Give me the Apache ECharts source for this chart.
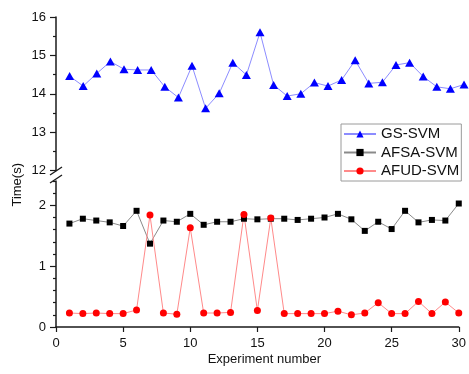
<!DOCTYPE html>
<html>
<head>
<meta charset="utf-8">
<script src="https://cdn.jsdelivr.net/npm/echarts@6/dist/echarts.min.js"></script>
<style>
  html, body { margin: 0; padding: 0; background: #fff; }
  #chart { width: 469px; height: 374px; }
</style>
</head>
<body>
<div id="chart"></div>
<script>
// Run times of three SVM tuning methods over 30 experiments
const experiments = [1, 2, 3, 4, 5, 6, 7, 8, 9, 10, 11, 12, 13, 14, 15, 16, 17, 18, 19, 20, 21, 22, 23, 24, 25, 26, 27, 28, 29, 30];
const gsSvm = [14.46, 14.20, 14.53, 14.84, 14.64, 14.62, 14.62, 14.18, 13.90, 14.73, 13.62, 14.01, 14.81, 14.49, 15.60, 14.23, 13.94, 14.00, 14.29, 14.20, 14.36, 14.87, 14.27, 14.30, 14.75, 14.81, 14.45, 14.18, 14.13, 14.24];
const afsaSvm = [1.70, 1.78, 1.75, 1.72, 1.66, 1.91, 1.37, 1.75, 1.73, 1.86, 1.68, 1.73, 1.73, 1.78, 1.77, 1.78, 1.78, 1.76, 1.78, 1.80, 1.86, 1.77, 1.58, 1.73, 1.61, 1.91, 1.72, 1.76, 1.75, 2.03];
const afudSvm = [0.23, 0.22, 0.23, 0.22, 0.22, 0.28, 1.84, 0.23, 0.21, 1.63, 0.23, 0.23, 0.24, 1.85, 0.27, 1.79, 0.22, 0.22, 0.22, 0.22, 0.26, 0.20, 0.23, 0.40, 0.22, 0.22, 0.42, 0.22, 0.41, 0.23];

// Axis ranges and labelled ticks
const xRange = [0, 30];
const xTicks = [0, 5, 10, 15, 20, 25, 30];
const upperRange = [12, 16];
const upperTicks = [12, 13, 14, 15, 16];
const lowerRange = [0, 2.4];
const lowerTicks = [0, 1, 2];
const lowerMinorTicks = [0.2, 0.4, 0.6, 0.8, 1.2, 1.4, 1.6, 1.8, 2.2, 2.4];

const FONT = '"Liberation Sans", Arial, sans-serif';
const AXIS_COLOR = '#1a1a1a';

const pairs = ys => experiments.map((x, i) => [x, ys[i]]);

const chart = echarts.init(document.getElementById('chart'), null, { renderer: 'canvas' });

const hiddenX = gi => ({
  type: 'value', gridIndex: gi, min: xRange[0], max: xRange[1], show: false
});

// Upper and lower panels share the x range; grid 2 overlays grid 1 to carry the minor ticks
const lowerGrid = { left: 56, right: 5, top: 181, bottom: 47 };

const option = {
  animation: false,
  backgroundColor: '#fff',
  textStyle: { fontFamily: FONT },
  grid: [
    { left: 56, right: 5, top: 17, bottom: 203.5 },
    lowerGrid,
    Object.assign({}, lowerGrid)
  ],
  xAxis: [
    hiddenX(0),
    {
      type: 'value', gridIndex: 1, min: xRange[0], max: xRange[1], interval: 5,
      name: 'Experiment number', nameLocation: 'middle', nameGap: 26,
      nameTextStyle: { fontSize: 13, color: '#111', fontFamily: FONT, padding: [0, 0, 0, 14] },
      axisLine: { lineStyle: { color: AXIS_COLOR, width: 1.5 } },
      axisTick: { customValues: xTicks, length: 5, lineStyle: { color: AXIS_COLOR, width: 1.2 } },
      axisLabel: { customValues: xTicks, margin: 10, fontSize: 13, color: '#111', fontFamily: FONT },
      splitLine: { show: false }
    },
    hiddenX(2)
  ],
  yAxis: [
    {
      type: 'value', gridIndex: 0, min: upperRange[0], max: upperRange[1], interval: 1,
      axisLine: { show: true, lineStyle: { color: AXIS_COLOR, width: 1.5 } },
      axisTick: { show: true, customValues: upperTicks, length: 6, lineStyle: { color: AXIS_COLOR, width: 1.2 } },
      minorTick: { show: true, splitNumber: 2, length: 3, lineStyle: { color: AXIS_COLOR, width: 1.2 } },
      axisLabel: { customValues: upperTicks, margin: 10, fontSize: 13, color: '#111', fontFamily: FONT },
      splitLine: { show: false }
    },
    {
      type: 'value', gridIndex: 1, min: lowerRange[0], max: lowerRange[1],
      axisLine: { show: true, lineStyle: { color: AXIS_COLOR, width: 1.5 } },
      axisTick: { show: true, customValues: lowerTicks, length: 6, lineStyle: { color: AXIS_COLOR, width: 1.2 } },
      axisLabel: { customValues: lowerTicks, margin: 10, fontSize: 13, color: '#111', fontFamily: FONT },
      splitLine: { show: false }
    },
    {
      type: 'value', gridIndex: 2, min: lowerRange[0], max: lowerRange[1],
      axisLine: { show: false },
      axisTick: { show: true, customValues: lowerMinorTicks, length: 3, lineStyle: { color: AXIS_COLOR, width: 1.2 } },
      axisLabel: { show: false },
      splitLine: { show: false }
    }
  ],
  legend: {
    left: 341, top: 124,
    orient: 'vertical',
    padding: [2.5, 2, 2.5, 2],
    itemGap: 3.5,
    itemWidth: 32, itemHeight: 9,
    borderColor: '#9a9a9a', borderWidth: 1, backgroundColor: '#fff',
    textStyle: { fontSize: 15, color: '#111', fontFamily: FONT },
    data: ['GS-SVM', 'AFSA-SVM', 'AFUD-SVM']
  },
  series: [
    {
      name: 'GS-SVM', type: 'line', xAxisIndex: 0, yAxisIndex: 0,
      data: pairs(gsSvm),
      symbol: 'triangle', symbolSize: [9, 8],
      lineStyle: { color: '#8c8cff', width: 1 },
      itemStyle: { color: '#0000ff' }
    },
    {
      name: 'AFSA-SVM', type: 'line', xAxisIndex: 1, yAxisIndex: 1,
      data: pairs(afsaSvm),
      symbol: 'rect', symbolSize: 6,
      lineStyle: { color: '#8a8a8a', width: 1 },
      itemStyle: { color: '#000' }
    },
    {
      name: 'AFUD-SVM', type: 'line', xAxisIndex: 1, yAxisIndex: 1,
      data: pairs(afudSvm),
      symbol: 'circle', symbolSize: 7,
      lineStyle: { color: '#ff8a8a', width: 1 },
      itemStyle: { color: '#ff0000' }
    }
  ],
  graphic: [
    {
      type: 'text', left: 11, top: 163, rotation: Math.PI / 2,
      style: { text: 'Time(s)', fontSize: 13, fill: '#111', font: '13px ' + FONT }
    },
    // axis-break slashes
    { type: 'line', shape: { x1: 50, y1: 175, x2: 62, y2: 167 }, style: { stroke: AXIS_COLOR, lineWidth: 1.3 } },
    { type: 'line', shape: { x1: 50, y1: 183, x2: 62, y2: 175 }, style: { stroke: AXIS_COLOR, lineWidth: 1.3 } }
  ]
};

chart.setOption(option);
</script>
</body>
</html>
